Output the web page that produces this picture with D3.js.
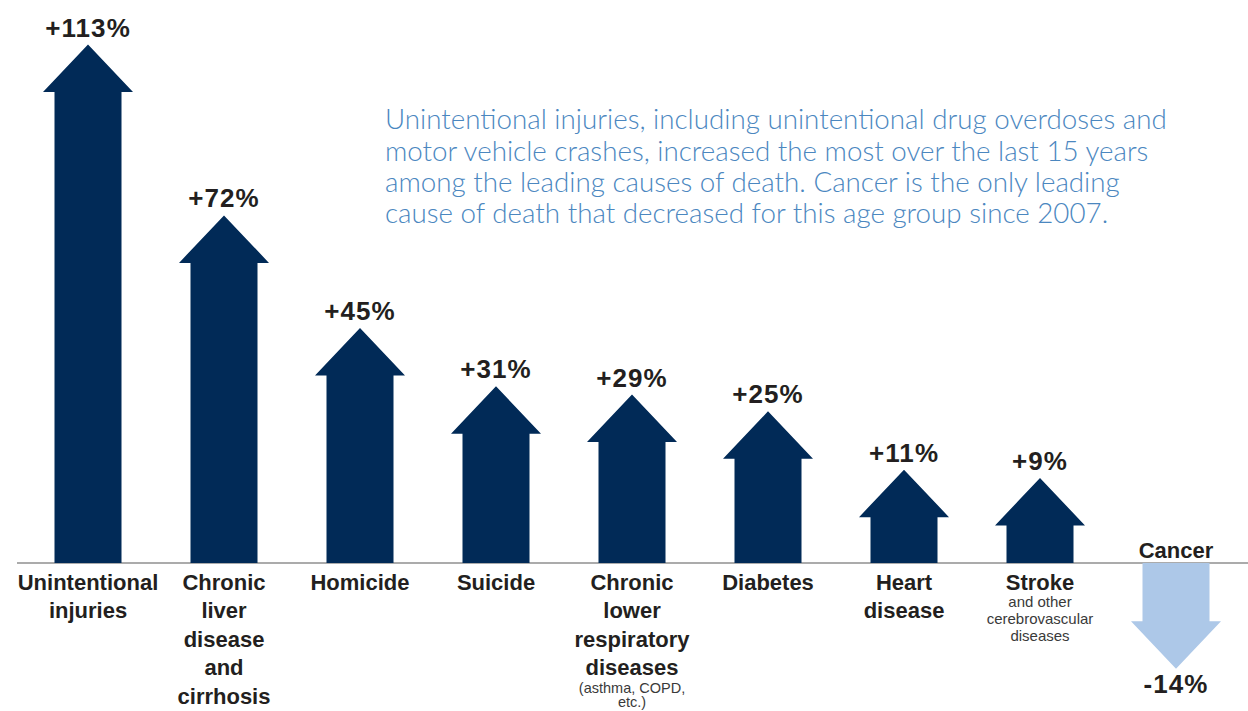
<!DOCTYPE html>
<html>
<head>
<meta charset="utf-8">
<script src="https://cdn.jsdelivr.net/npm/d3@7"></script>
<style>
  html, body { margin: 0; padding: 0; background: #ffffff; }
  svg { display: block; }
</style>
</head>
<body>
<svg id="chart" width="1248" height="711"></svg>
<script>
// Percent change in death rate since 2007, by leading cause of death
const causes = [
  "Unintentional injuries",
  "Chronic liver disease and cirrhosis",
  "Homicide",
  "Suicide",
  "Chronic lower respiratory diseases",
  "Diabetes",
  "Heart disease",
  "Stroke",
  "Cancer"
];
const changes = [113, 72, 45, 31, 29, 25, 11, 9, -14];

// Wrapped category names and the small qualifiers under some of them
const nameLines = [
  ["Unintentional", "injuries"],
  ["Chronic", "liver", "disease", "and", "cirrhosis"],
  ["Homicide"],
  ["Suicide"],
  ["Chronic", "lower", "respiratory", "diseases"],
  ["Diabetes"],
  ["Heart", "disease"],
  ["Stroke"],
  ["Cancer"]
];
const noteLines = [
  [], [], [], [],
  ["(asthma, COPD,", "etc.)"],
  [], [],
  ["and other", "cerebrovascular", "diseases"],
  []
];

const summaryLines = [
  "Unintentional injuries, including unintentional drug overdoses and",
  "motor vehicle crashes, increased the most over the last 15 years",
  "among the leading causes of death. Cancer is the only leading",
  "cause of death that decreased for this age group since 2007."
];

const rows = causes.map((c, i) => ({
  cause: c, value: changes[i], name: nameLines[i], note: noteLines[i]
}));

const svg = d3.select("#chart");
const labelFont = "'Century Gothic', 'Liberation Sans', Arial, sans-serif";
const ink = "#231f20";
const upColor = "#012a57";
const downColor = "#adc8e8";

const x = d3.scalePoint().domain(causes).range([88, 1176]);
const y = d3.scaleLinear().domain([0, 113]).range([563, 92]);

const shaftHalf = 33.5;
const headHalf = 45;
const headLen = 47.5;
// Signed percent with a plain hyphen for negatives
const pct = v => (v >= 0 ? "+" : "-") + Math.abs(v) + "%";

// Zero line
svg.append("line")
  .attr("x1", 17).attr("x2", 1248)
  .attr("y1", y(0)).attr("y2", y(0))
  .attr("stroke", "#8f8f8f").attr("stroke-width", 1.5);

// Arrows: a shaft sized by the value plus a fixed triangular head
function arrowPath(d) {
  const cx = x(d.cause);
  const y0 = y(0);
  const y1 = y(d.value);
  const dir = d.value >= 0 ? -1 : 1;
  const p = d3.path();
  p.moveTo(cx - shaftHalf, y0);
  p.lineTo(cx - shaftHalf, y1);
  p.lineTo(cx - headHalf, y1);
  p.lineTo(cx, y1 + dir * headLen);
  p.lineTo(cx + headHalf, y1);
  p.lineTo(cx + shaftHalf, y1);
  p.lineTo(cx + shaftHalf, y0);
  p.closePath();
  return p.toString();
}

svg.append("g").selectAll("path")
  .data(rows)
  .join("path")
  .attr("d", arrowPath)
  .attr("fill", d => d.value >= 0 ? upColor : downColor);

// Value labels at the arrow tips
svg.append("g").selectAll("text")
  .data(rows)
  .join("text")
  .attr("x", d => x(d.cause))
  .attr("y", d => d.value >= 0
    ? y(d.value) - headLen - 8
    : y(d.value) + headLen + 24)
  .attr("text-anchor", "middle")
  .attr("font-family", labelFont)
  .attr("font-weight", "bold")
  .attr("font-size", 26)
  .attr("letter-spacing", 1.1)
  .attr("fill", ink)
  .text(d => pct(d.value));

// Category names: below the line for increases, above it for decreases
const names = svg.append("g").selectAll("text")
  .data(rows)
  .join("text")
  .attr("text-anchor", "middle")
  .attr("font-family", labelFont)
  .attr("font-weight", "bold")
  .attr("font-size", 22)
  .attr("fill", ink)
  .attr("transform", d => `translate(${x(d.cause)},${d.value >= 0 ? 590 : 558})`);

names.selectAll("tspan")
  .data(d => d.name)
  .join("tspan")
  .attr("x", 0)
  .attr("y", (t, i) => i * 28.4)
  .text(t => t);

// Smaller qualifiers under the names
const notes = svg.append("g").selectAll("text")
  .data(rows.filter(d => d.note.length))
  .join("text")
  .attr("text-anchor", "middle")
  .attr("font-family", labelFont)
  .attr("font-size", d => d.note.length > 2 ? 15 : 14.5)
  .attr("fill", "#3a3a3a")
  .attr("transform", d => {
    const base = 590 + (d.name.length - 1) * 28.4;
    const gap = d.note.length > 2 ? 17 : 17.5;
    return `translate(${x(d.cause)},${base + gap})`;
  });

notes.selectAll("tspan")
  .data(d => d.note.map(t => ({ t, step: d.note.length > 2 ? 17 : 14 })))
  .join("tspan")
  .attr("x", 0)
  .attr("y", (o, i) => i * o.step)
  .text(o => o.t);

// Summary note, sized so its longest line spans the same width as the block
const summary = svg.append("text")
  .attr("font-family", "Lato, 'Liberation Sans', sans-serif")
  .attr("font-weight", 300)
  .attr("font-size", 25)
  .attr("fill", "#4b87bf");

summary.selectAll("tspan")
  .data(summaryLines)
  .join("tspan")
  .attr("x", 385)
  .attr("y", (t, i) => 129.3 + i * 31.3)
  .text(t => t);

const firstLine = summary.select("tspan").node();
const measured = firstLine.getComputedTextLength();
if (measured > 0) {
  summary.attr("font-size", 25 * 782 / measured);
}
</script>
</body>
</html>
